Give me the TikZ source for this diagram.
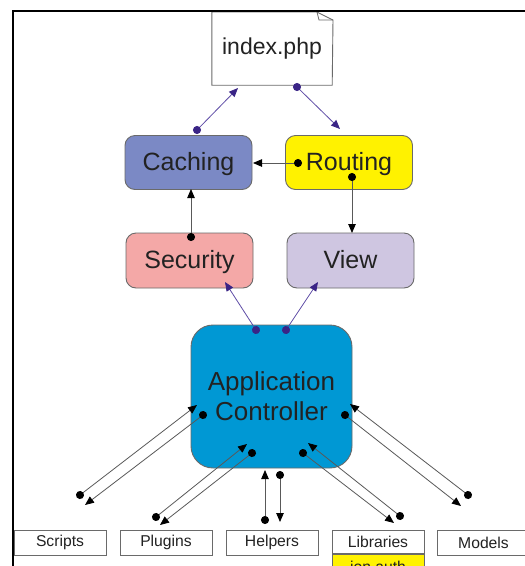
\documentclass[tikz,border=0pt]{standalone}
\usepackage{fontspec}
\setmainfont{Liberation Sans}
\usetikzlibrary{arrows.meta}
\definecolor{cachc}{HTML}{7B89C5}
\definecolor{routc}{HTML}{FFF200}
\definecolor{secc}{HTML}{F4A8A7}
\definecolor{viewc}{HTML}{CFC6E1}
\definecolor{appc}{HTML}{0098D4}
\definecolor{purl}{HTML}{5E4CA6}
\definecolor{purd}{HTML}{3A2486}
\definecolor{bordc}{HTML}{6A6A6A}
\definecolor{txtc}{HTML}{222222}
\tikzset{
  midbox/.style={draw=bordc, line width=0.9pt, rounded corners=10pt, minimum width=127pt, minimum height=54pt, inner sep=0pt, text height=15pt, text depth=0pt, font=\fontsize{25}{28}\selectfont, text=txtc},
  smallbox/.style={draw=bordc, line width=0.8pt, fill=white, minimum width=92pt, minimum height=25pt, inner sep=0pt, font=\fontsize{15.7}{18}\selectfont, text=txtc},
  parr/.style={draw=purl, line width=0.8pt, shorten <=-4pt, {Circle[length=8pt,color=purd]}-{Triangle[length=9pt,width=7.5pt,color=purd]}},
  barr/.style={draw=black!65, line width=0.8pt, shorten <=-4pt, {Circle[length=8pt,color=black]}-{Triangle[length=9pt,width=7.5pt,color=black]}},
}
\begin{document}
\begin{tikzpicture}[x=1pt,y=-1pt]
\useasboundingbox (0,0) rectangle (525,566);
\clip (0,0) rectangle (525,566);
\fill[white] (0,0) rectangle (525,566);
% frame
\draw[black, line width=1.3pt] (13,566) -- (13,11) -- (525,11);
% index.php
\node[minimum width=120pt, minimum height=73pt, inner sep=0pt, font=\fontsize{23}{26}\selectfont, text=txtc] (idx) at (272,48.5) {index.php};
\draw[bordc, line width=0.9pt] (idx.north west) -- (317,12) -- (333,20) -- (idx.south east) -- (idx.south west) -- cycle;
\draw[bordc, line width=0.8pt] (317,12) -- (319,20) -- (333,20);
\draw[black, line width=1.3pt] (13,11) -- (525,11);
% middle boxes
\node[midbox, fill=cachc] (cach) at (188.5,162.5) {Caching};
\node[midbox, fill=routc] (rout) at (349,162.5) {Routing};
\node[midbox, fill=secc, minimum height=55pt] (sec) at (189.5,260.5) {Security};
\node[midbox, fill=viewc, minimum height=55pt] (view) at (350.5,260.5) {View};
% application controller
\node[draw=bordc, line width=0.9pt, fill=appc, rounded corners=22pt, minimum width=161pt, minimum height=143pt, inner sep=0pt, align=center, font=\fontsize{26}{30}\selectfont, text=txtc] (app) at (271.5,396.5) {Application\\Controller};
% bottom boxes
\node[smallbox] (scr) at (60,542.5) {Scripts};
\node[smallbox] (plu) at (166,542.5) {Plugins};
\node[smallbox] (hel) at (272,542.5) {Helpers};
\node[smallbox, minimum height=23pt] (lib) at (378,542) {Libraries};
\node[smallbox, fill=routc, minimum height=26pt, anchor=north] (ion) at (378,553.5) {ion auth};
\node[smallbox] (mod) at (483.5,542.5) {Models};
% coordinates
\coordinate (p1a) at (197,130); \coordinate (p1b) at (238,88);
\coordinate (p2a) at (297,87);  \coordinate (p2b) at (340,129);
\coordinate (p3a) at (256,330); \coordinate (p3b) at (225,282);
\coordinate (p4a) at (286,330); \coordinate (p4b) at (318,282);
\coordinate (b1a) at (298,163); \coordinate (b1b) at (253,163);
\coordinate (b2a) at (352,177); \coordinate (b2b) at (352,233);
\coordinate (b3a) at (191,237); \coordinate (b3b) at (191,189);
\coordinate (s1a) at (80,495);  \coordinate (s1b) at (197,405);
\coordinate (s2a) at (203,415); \coordinate (s2b) at (85,505);
\coordinate (l1a) at (156,517); \coordinate (l1b) at (247,444);
\coordinate (l2a) at (252,453); \coordinate (l2b) at (160,525);
\coordinate (h1a) at (265,520); \coordinate (h1b) at (265,470);
\coordinate (h2a) at (280,475); \coordinate (h2b) at (280,522);
\coordinate (r1a) at (303,453); \coordinate (r1b) at (394,523);
\coordinate (r2a) at (400,516); \coordinate (r2b) at (308,443);
\coordinate (m1a) at (345,415); \coordinate (m1b) at (461,506);
\coordinate (m2a) at (468,495); \coordinate (m2b) at (350,404);
% purple connectors
\draw[parr] (p1a) -- (p1b);
\draw[parr] (p2a) -- (p2b);
\draw[parr] (p3a) -- (p3b);
\draw[parr] (p4a) -- (p4b);
% black connectors
\draw[barr] (b1a) -- (b1b);
\draw[barr] (b2a) -- (b2b);
\draw[barr] (b3a) -- (b3b);
\draw[barr] (s1a) -- (s1b);
\draw[barr] (s2a) -- (s2b);
\draw[barr] (l1a) -- (l1b);
\draw[barr] (l2a) -- (l2b);
\draw[barr] (h1a) -- (h1b);
\draw[barr] (h2a) -- (h2b);
\draw[barr] (r1a) -- (r1b);
\draw[barr] (r2a) -- (r2b);
\draw[barr] (m1a) -- (m1b);
\draw[barr] (m2a) -- (m2b);
\end{tikzpicture}
\end{document}
